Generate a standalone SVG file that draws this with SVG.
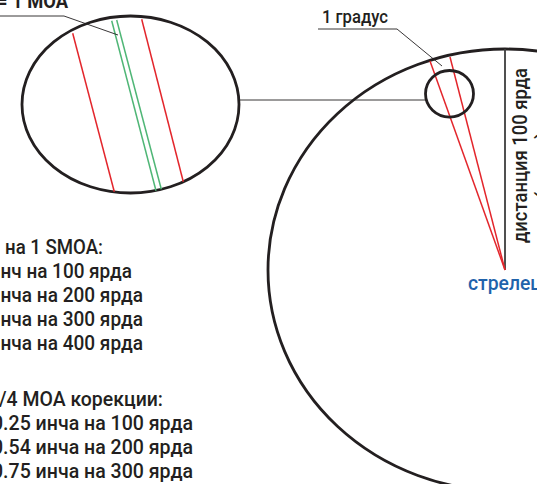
<svg xmlns="http://www.w3.org/2000/svg" width="537" height="484" viewBox="0 0 537 484">
<style>
.outline{fill:none;stroke:#231f20;stroke-width:2.8}
.lead{fill:none;stroke:#231f20;stroke-width:0.9}
.red{stroke:#e3262c;stroke-width:1.5;fill:none}
.green{stroke:#4fb676;stroke-width:1.5;fill:none}
.t{font-family:Roboto,"Liberation Sans",sans-serif;font-weight:500;font-size:21px;fill:#231f20}
.blue{font-family:Roboto,"Liberation Sans",sans-serif;font-weight:500;font-size:21px;fill:#1f62ab}
</style>
<rect width="537" height="484" fill="#ffffff"/>

<g id="big-circle">
  <ellipse class="outline" cx="505" cy="270" rx="237" ry="221"/>
  <line x1="505" y1="49" x2="505" y2="270" stroke="#3d3d3d" stroke-width="1.8"/>
  <line class="red" x1="430" y1="61" x2="505" y2="270"/>
  <line class="red" x1="450" y1="57" x2="505" y2="270"/>
</g>

<g id="zoom-circle">
  <ellipse class="outline" cx="449.5" cy="93.8" rx="24" ry="23.3"/>
</g>

<g id="detail-ellipse">
  <ellipse class="outline" cx="130.5" cy="104.5" rx="108.5" ry="88.5"/>
  <line class="red" x1="72.7" y1="33.3" x2="114.3" y2="191.7"/>
  <line class="green" x1="111.7" y1="20.7" x2="156" y2="190.7"/>
  <line class="green" x1="116.7" y1="20" x2="161.3" y2="189.3"/>
  <line class="red" x1="141.7" y1="19.3" x2="183.3" y2="181.7"/>
</g>

<g id="connectors">
  <line class="lead" x1="239" y1="100" x2="426" y2="100"/>
  <polyline class="lead" points="318,29 397,29 442,66"/>
  <polyline class="lead" points="0,16 64,16 118,35"/>
</g>

<g id="label-moa">
  <text class="t" style="font-weight:700" x="-3" y="8" textLength="71" lengthAdjust="spacingAndGlyphs">= 1 MOA</text>
</g>

<g id="label-degree">
  <text class="t" style="font-size:18px" x="322" y="23" textLength="66" lengthAdjust="spacingAndGlyphs">1 градус</text>
</g>

<g id="label-shooter">
  <text class="blue" x="468" y="290" textLength="74" lengthAdjust="spacingAndGlyphs">стрелец</text>
</g>

<g id="label-distance">
  <text class="t" transform="translate(527,243) rotate(-90)" x="0" y="0" textLength="175" lengthAdjust="spacingAndGlyphs">дистанция 100 ярда</text>
  <text class="t" transform="translate(550,199) rotate(-90)" x="0" y="0">(</text>
  <text class="t" transform="translate(550,139) rotate(-90)" x="0" y="0">)</text>
</g>

<g id="legend">
  <text class="t" x="5" y="254" textLength="98" lengthAdjust="spacingAndGlyphs">на 1 SMOA:</text>
  <text class="t" x="0.5" y="278" textLength="131.5" lengthAdjust="spacingAndGlyphs">нч на 100 ярда</text>
  <text class="t" x="0.5" y="302" textLength="142.5" lengthAdjust="spacingAndGlyphs">нча на 200 ярда</text>
  <text class="t" x="0.5" y="326" textLength="142.5" lengthAdjust="spacingAndGlyphs">нча на 300 ярда</text>
  <text class="t" x="0.5" y="350" textLength="142.5" lengthAdjust="spacingAndGlyphs">нча на 400 ярда</text>
  <text class="t" x="-1" y="406" textLength="164" lengthAdjust="spacingAndGlyphs">/4 MOA корекции:</text>
  <text class="t" x="-8" y="430" textLength="201" lengthAdjust="spacingAndGlyphs">0.25 инча на 100 ярда</text>
  <text class="t" x="-8" y="454" textLength="201" lengthAdjust="spacingAndGlyphs">0.54 инча на 200 ярда</text>
  <text class="t" x="-8" y="478" textLength="201" lengthAdjust="spacingAndGlyphs">0.75 инча на 300 ярда</text>
</g>
</svg>
